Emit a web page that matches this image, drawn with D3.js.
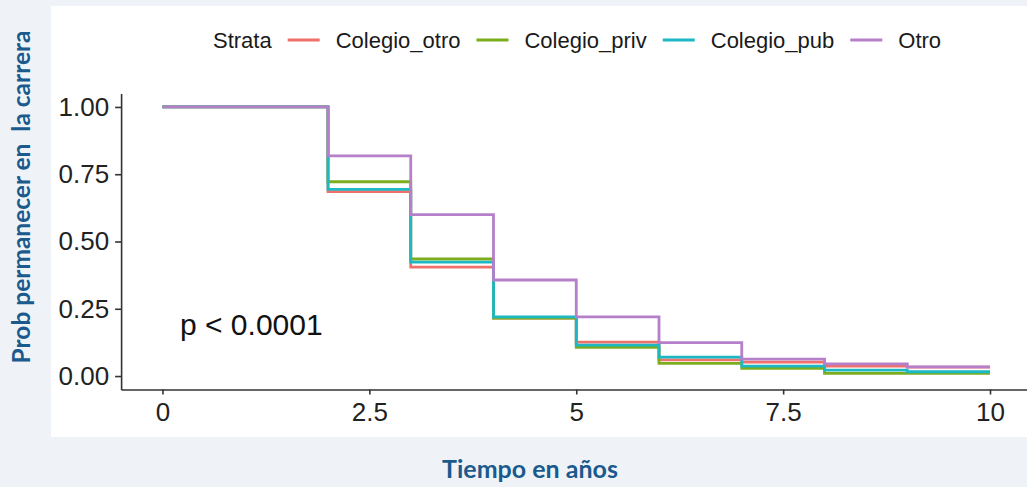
<!DOCTYPE html>
<html>
<head>
<meta charset="utf-8">
<script src="https://cdn.jsdelivr.net/npm/d3@7"></script>
<style>
  body { margin: 0; background: #eff3f8; }
  svg { display: block; }
  .sans { font-family: "Liberation Sans", Arial, sans-serif; }
  .title { font-family: Lato, "Open Sans", sans-serif; font-weight: bold; }
</style>
</head>
<body>
<svg width="1027" height="487"></svg>
<script>
// KM step values at t = 0..10 (value holds until the next time)
const times = [0, 1, 2, 3, 4, 5, 6, 7, 8, 9, 10];
const strata = ["Colegio_otro", "Colegio_priv", "Colegio_pub", "Otro"];
const colegioOtro = [1, 1, 0.685, 0.405, 0.215, 0.126, 0.06, 0.052, 0.037, 0.033, 0.033];
const colegioPriv = [1, 1, 0.722, 0.435, 0.215, 0.107, 0.047, 0.029, 0.01, 0.01, 0.01];
const colegioPub = [1, 1, 0.694, 0.423, 0.22, 0.115, 0.07, 0.037, 0.022, 0.016, 0.016];
const otro = [1, 1, 0.818, 0.6, 0.357, 0.22, 0.124, 0.063, 0.045, 0.034, 0.034];
const xTicks = [0, 2.5, 5, 7.5, 10];
const yTicks = [0, 0.25, 0.5, 0.75, 1];
const colors = ["#f0716a", "#7cad1c", "#1cb8c4", "#b57fca"];

const series = [colegioOtro, colegioPriv, colegioPub, otro];

const svg = d3.select("svg");

// white panel
svg.append("rect")
    .attr("x", 51).attr("y", 6)
    .attr("width", 976).attr("height", 431)
    .attr("fill", "#ffffff");

let x = d3.scaleLinear()
    .domain([-0.5, 10.5])
    .range([121.1, 1031.4]);
let y = d3.scaleLinear()
    .domain([-0.05, 1.05])
    .range([389.5, 93.5]);

// steps
let line = d3.line()
    .x((d, i) => x(times[i]))
    .y(d => y(d))
    .curve(d3.curveStepAfter);

series.forEach(function (s, k) {
    svg.append("path")
        .datum(s)
        .attr("fill", "none")
        .attr("stroke", colors[k])
        .attr("stroke-width", 2.8)
        .attr("d", line);
});

// axes
let styleAxis = g => g
    .call(g => g.select(".domain").attr("stroke", "#333").attr("stroke-width", 1.6))
    .call(g => g.selectAll(".tick line").attr("stroke", "#333").attr("stroke-width", 1.6))
    .call(g => g.selectAll("text")
        .attr("class", "sans")
        .style("font-size", "26px").attr("fill", "#222"));

let xAxis = g => g
    .attr("transform", "translate(0," + y(-0.05) + ")")
    .call(d3.axisBottom(x).tickValues(xTicks).tickSize(5).tickSizeOuter(0).tickPadding(8)
        .tickFormat(d => String(d)))
    .call(styleAxis);

let yAxis = g => g
    .attr("transform", "translate(" + x(-0.5) + ",0)")
    .call(d3.axisLeft(y).tickValues(yTicks).tickSize(6).tickSizeOuter(0).tickPadding(6)
        .tickFormat(d3.format(".2f")))
    .call(styleAxis);

svg.append("g").call(xAxis).attr("font-family", null);
svg.append("g").call(yAxis).attr("font-family", null);

// p value
svg.append("text")
    .attr("class", "sans")
    .attr("x", 180).attr("y", 335)
    .style("font-size", "30px")
    .attr("fill", "#111")
    .text("p < 0.0001");

// legend
let leg = svg.append("g")
    .attr("class", "sans")
    .style("font-size", "22px")
    .attr("fill", "#1a1a1a");
let lx = 213, ly = 40;
let t0 = leg.append("text").attr("x", lx).attr("y", ly).attr("dy", "0.35em").text("Strata");
lx += t0.node().getComputedTextLength() + 16;
strata.forEach(function (name, k) {
    leg.append("line")
        .attr("x1", lx).attr("x2", lx + 32)
        .attr("y1", ly).attr("y2", ly)
        .attr("stroke", colors[k]).attr("stroke-width", 2.8);
    lx += 32 + 16;
    let t = leg.append("text").attr("x", lx).attr("y", ly).attr("dy", "0.35em").text(name);
    lx += t.node().getComputedTextLength() + 16;
});

// axis titles
svg.append("text")
    .attr("class", "title")
    .attr("transform", "translate(30,197) rotate(-90)")
    .attr("text-anchor", "middle")
    .style("font-size", "24.5px")
    .style("white-space", "pre")
    .attr("fill", "#1a5a8c")
    .text("Prob permanecer en  la carrera");

svg.append("text")
    .attr("class", "title")
    .attr("x", 530).attr("y", 478)
    .attr("text-anchor", "middle")
    .style("font-size", "25px")
    .attr("fill", "#1a5a8c")
    .text("Tiempo en años");
</script>
</body>
</html>
